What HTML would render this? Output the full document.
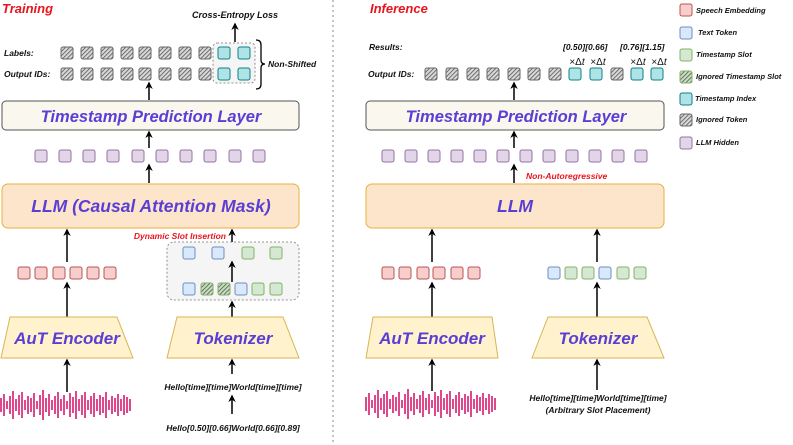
<!DOCTYPE html>
<html><head><meta charset="utf-8"><style>
html,body{margin:0;padding:0;background:#fff;}
svg{display:block;}
text{font-family:"Liberation Sans",sans-serif;font-style:italic;font-weight:bold;}
</style></head><body>
<svg width="793" height="445" viewBox="0 0 793 445" xmlns="http://www.w3.org/2000/svg">
<defs>
<pattern id="hg" width="3" height="3" patternUnits="userSpaceOnUse" patternTransform="rotate(45)">
<rect width="3" height="3" fill="#d8d8d8"/><line x1="0" y1="0" x2="0" y2="3" stroke="#555" stroke-width="1.6"/></pattern>
<pattern id="hgr" width="3" height="3" patternUnits="userSpaceOnUse" patternTransform="rotate(45)">
<rect width="3" height="3" fill="#c9dcc4"/><line x1="0" y1="0" x2="0" y2="3" stroke="#4a5a46" stroke-width="1.6"/></pattern>
<marker id="ar" viewBox="0 0 10 10" refX="8" refY="5" markerWidth="5" markerHeight="5" orient="auto"><path d="M0,0 L10,5 L0,10 L3,5 z" fill="#000"/></marker>
<g id="ig"><rect width="12" height="12" rx="2" fill="url(#hg)" stroke="#666" stroke-width="1"/></g>
<g id="igs"><rect width="12" height="12" rx="2" fill="url(#hgr)" stroke="#82b366" stroke-width="1"/></g>
<g id="te"><rect width="12" height="12" rx="2" fill="#b0e3e6" stroke="#0e8088" stroke-width="1"/></g>
<g id="hi"><rect width="12" height="12" rx="2" fill="#e1d5e7" stroke="#9673a6" stroke-width="1"/></g>
<g id="sp"><rect width="12" height="12" rx="2" fill="#f8cecc" stroke="#b85450" stroke-width="1"/></g>
<g id="tx"><rect width="12" height="12" rx="2" fill="#dae8fc" stroke="#6c8ebf" stroke-width="1"/></g>
<g id="gs"><rect width="12" height="12" rx="2" fill="#d5e8d4" stroke="#82b366" stroke-width="1"/></g>
<path id="wave" fill="none" stroke="#d81b72" stroke-width="1.6" d="M1 398V412 M4 394V416 M7 401V409 M10 396V414 M13 391V419 M16 399V411 M19 395V415 M22 392V418 M25 400V410 M28 396V414 M31 398V412 M34 393V417 M37 401V409 M40 395V415 M43 390V420 M46 398V412 M49 394V416 M52 400V410 M55 396V414 M58 392V418 M61 399V411 M64 395V415 M67 401V409 M70 393V417 M73 397V413 M76 391V419 M79 399V411 M82 395V415 M85 392V418 M88 400V410 M91 396V414 M94 393V417 M97 399V411 M100 395V415 M103 397V413 M106 392V418 M109 400V410 M112 396V414 M115 398V412 M118 394V416 M121 399V411 M124 395V415 M127 397V413 M130 399V411"/>
</defs>

<line x1="333" y1="0" x2="333" y2="445" stroke="#888" stroke-width="1" stroke-dasharray="2,3"/>

<text x="2" y="13" font-size="13" fill="#e8141e">Training</text>
<text x="235" y="18" font-size="9" fill="#111" text-anchor="middle">Cross-Entropy Loss</text>
<line x1="235" y1="42" x2="235" y2="24" stroke="#000" stroke-width="1.5" marker-end="url(#ar)"/>
<text x="4" y="56" font-size="8.5" fill="#111">Labels:</text>
<text x="4" y="77" font-size="8.5" fill="#111">Output IDs:</text>
<rect x="213" y="43" width="42" height="40" rx="4" fill="#f5f5f5" stroke="#777" stroke-width="0.8" stroke-dasharray="2,2"/>
<g>
<use href="#ig" x="61" y="47"/><use href="#ig" x="81" y="47"/><use href="#ig" x="101" y="47"/><use href="#ig" x="121" y="47"/><use href="#ig" x="139" y="47"/><use href="#ig" x="159" y="47"/><use href="#ig" x="179" y="47"/><use href="#ig" x="199" y="47"/><use href="#te" x="218" y="47"/><use href="#te" x="238" y="47"/>
<use href="#ig" x="61" y="68"/><use href="#ig" x="81" y="68"/><use href="#ig" x="101" y="68"/><use href="#ig" x="121" y="68"/><use href="#ig" x="139" y="68"/><use href="#ig" x="159" y="68"/><use href="#ig" x="179" y="68"/><use href="#ig" x="199" y="68"/><use href="#te" x="218" y="68"/><use href="#te" x="238" y="68"/>
</g>
<path d="M256 40 Q261 40 261 45 V60 Q261 64 265 64 Q261 64 261 68 V84 Q261 89 256 89" fill="none" stroke="#000" stroke-width="1.3"/>
<text x="268" y="67" font-size="8.5" fill="#111">Non-Shifted</text>
<line x1="149" y1="100" x2="149" y2="83" stroke="#000" stroke-width="1.5" marker-end="url(#ar)"/>
<rect x="2" y="101" width="297" height="29" rx="4" fill="#f9f7ee" stroke="#555" stroke-width="1"/>
<text x="151" y="122" font-size="16.5" fill="#5a3fd4" text-anchor="middle">Timestamp Prediction Layer</text>
<line x1="149" y1="148" x2="149" y2="132" stroke="#000" stroke-width="1.5" marker-end="url(#ar)"/>
<g>
<use href="#hi" x="35" y="150"/><use href="#hi" x="59" y="150"/><use href="#hi" x="83" y="150"/><use href="#hi" x="107" y="150"/><use href="#hi" x="132" y="150"/><use href="#hi" x="156" y="150"/><use href="#hi" x="180" y="150"/><use href="#hi" x="204" y="150"/><use href="#hi" x="229" y="150"/><use href="#hi" x="253" y="150"/>
</g>
<line x1="149" y1="183" x2="149" y2="165" stroke="#000" stroke-width="1.5" marker-end="url(#ar)"/>
<rect x="2" y="184" width="297" height="44" rx="6" fill="#fde5cc" stroke="#e6b13c" stroke-width="1"/>
<text x="151" y="212" font-size="17.5" fill="#5a3fd4" text-anchor="middle">LLM (Causal Attention Mask)</text>
<line x1="67" y1="262" x2="67" y2="230" stroke="#000" stroke-width="1.5" marker-end="url(#ar)"/>
<line x1="232" y1="242" x2="232" y2="230" stroke="#000" stroke-width="1.5" marker-end="url(#ar)"/>
<text x="226" y="239" font-size="8.5" fill="#e8141e" text-anchor="end">Dynamic Slot Insertion</text>
<g>
<use href="#sp" x="18" y="267"/><use href="#sp" x="35" y="267"/><use href="#sp" x="53" y="267"/><use href="#sp" x="70" y="267"/><use href="#sp" x="87" y="267"/><use href="#sp" x="104" y="267"/>
</g>
<line x1="67" y1="317" x2="67" y2="283" stroke="#000" stroke-width="1.5" marker-end="url(#ar)"/>
<polygon points="10,317 117,317 133,358 1,358" fill="#fff2cc" stroke="#d6b656" stroke-width="1"/>
<text x="67" y="344" font-size="17" fill="#5a3fd4" text-anchor="middle">AuT Encoder</text>
<line x1="67" y1="392" x2="67" y2="360" stroke="#000" stroke-width="1.5" marker-end="url(#ar)"/>
<use href="#wave" x="0" y="0"/>

<rect x="167" y="242" width="132" height="58" rx="7" fill="#f5f5f5" stroke="#777" stroke-width="0.8" stroke-dasharray="2,2"/>
<use href="#tx" x="183" y="247"/><use href="#tx" x="212" y="247"/><use href="#gs" x="242" y="247"/><use href="#gs" x="270" y="247"/>
<line x1="232" y1="282" x2="232" y2="262" stroke="#000" stroke-width="1.5" marker-end="url(#ar)"/>
<use href="#tx" x="183" y="283"/><use href="#igs" x="201" y="283"/><use href="#igs" x="218" y="283"/><use href="#tx" x="235" y="283"/><use href="#gs" x="252" y="283"/><use href="#gs" x="270" y="283"/>
<line x1="232" y1="317" x2="232" y2="302" stroke="#000" stroke-width="1.5" marker-end="url(#ar)"/>
<polygon points="177,317 283,317 299,358 167,358" fill="#fff2cc" stroke="#d6b656" stroke-width="1"/>
<text x="233" y="344" font-size="17" fill="#5a3fd4" text-anchor="middle">Tokenizer</text>
<line x1="232" y1="374" x2="232" y2="360" stroke="#000" stroke-width="1.5" marker-end="url(#ar)"/>
<text x="233" y="390" font-size="8.5" fill="#111" text-anchor="middle">Hello[time][time]World[time][time]</text>
<line x1="232" y1="414" x2="232" y2="396" stroke="#000" stroke-width="1.5" marker-end="url(#ar)"/>
<text x="233" y="431" font-size="8.5" fill="#111" text-anchor="middle">Hello[0.50][0.66]World[0.66][0.89]</text>

<text x="370" y="13" font-size="13" fill="#e8141e">Inference</text>
<text x="369" y="50" font-size="8.5" fill="#111">Results:</text>
<text x="563" y="50" font-size="8.5" fill="#111">[0.50][0.66]</text>
<text x="620" y="50" font-size="8.5" fill="#111">[0.76][1.15]</text>
<text x="577" y="65" font-size="10" fill="#111" text-anchor="middle" style="font-style:normal;font-weight:normal">×Δ<tspan font-style="italic">t</tspan></text>
<text x="598" y="65" font-size="10" fill="#111" text-anchor="middle" style="font-style:normal;font-weight:normal">×Δ<tspan font-style="italic">t</tspan></text>
<text x="638" y="65" font-size="10" fill="#111" text-anchor="middle" style="font-style:normal;font-weight:normal">×Δ<tspan font-style="italic">t</tspan></text>
<text x="659" y="65" font-size="10" fill="#111" text-anchor="middle" style="font-style:normal;font-weight:normal">×Δ<tspan font-style="italic">t</tspan></text>
<text x="368" y="77" font-size="8.5" fill="#111">Output IDs:</text>
<use href="#ig" x="425" y="68"/><use href="#ig" x="446" y="68"/><use href="#ig" x="467" y="68"/><use href="#ig" x="487" y="68"/><use href="#ig" x="508" y="68"/><use href="#ig" x="528" y="68"/><use href="#ig" x="549" y="68"/><use href="#te" x="569" y="68"/><use href="#te" x="590" y="68"/><use href="#ig" x="611" y="68"/><use href="#te" x="631" y="68"/><use href="#te" x="651" y="68"/>
<line x1="514" y1="100" x2="514" y2="83" stroke="#000" stroke-width="1.5" marker-end="url(#ar)"/>
<rect x="366" y="101" width="298" height="29" rx="4" fill="#f9f7ee" stroke="#555" stroke-width="1"/>
<text x="516" y="122" font-size="16.5" fill="#5a3fd4" text-anchor="middle">Timestamp Prediction Layer</text>
<line x1="514" y1="148" x2="514" y2="132" stroke="#000" stroke-width="1.5" marker-end="url(#ar)"/>
<use href="#hi" x="382" y="150"/><use href="#hi" x="405" y="150"/><use href="#hi" x="428" y="150"/><use href="#hi" x="451" y="150"/><use href="#hi" x="474" y="150"/><use href="#hi" x="497" y="150"/><use href="#hi" x="520" y="150"/><use href="#hi" x="543" y="150"/><use href="#hi" x="566" y="150"/><use href="#hi" x="589" y="150"/><use href="#hi" x="612" y="150"/><use href="#hi" x="635" y="150"/>
<line x1="514" y1="183" x2="514" y2="165" stroke="#000" stroke-width="1.5" marker-end="url(#ar)"/>
<text x="526" y="179" font-size="8.5" fill="#e8141e">Non-Autoregressive</text>
<rect x="366" y="184" width="298" height="44" rx="6" fill="#fde5cc" stroke="#e6b13c" stroke-width="1"/>
<text x="515" y="212" font-size="17.5" fill="#5a3fd4" text-anchor="middle">LLM</text>
<line x1="432" y1="262" x2="432" y2="230" stroke="#000" stroke-width="1.5" marker-end="url(#ar)"/>
<line x1="597" y1="262" x2="597" y2="230" stroke="#000" stroke-width="1.5" marker-end="url(#ar)"/>
<use href="#sp" x="382" y="267"/><use href="#sp" x="399" y="267"/><use href="#sp" x="417" y="267"/><use href="#sp" x="433" y="267"/><use href="#sp" x="451" y="267"/><use href="#sp" x="468" y="267"/>
<use href="#tx" x="548" y="267"/><use href="#gs" x="565" y="267"/><use href="#gs" x="582" y="267"/><use href="#tx" x="599" y="267"/><use href="#gs" x="617" y="267"/><use href="#gs" x="634" y="267"/>
<line x1="432" y1="317" x2="432" y2="283" stroke="#000" stroke-width="1.5" marker-end="url(#ar)"/>
<line x1="597" y1="317" x2="597" y2="283" stroke="#000" stroke-width="1.5" marker-end="url(#ar)"/>
<polygon points="373,317 492,317 498,358 366,358" fill="#fff2cc" stroke="#d6b656" stroke-width="1"/>
<text x="432" y="344" font-size="17" fill="#5a3fd4" text-anchor="middle">AuT Encoder</text>
<polygon points="548,317 647,317 664,358 532,358" fill="#fff2cc" stroke="#d6b656" stroke-width="1"/>
<text x="598" y="344" font-size="17" fill="#5a3fd4" text-anchor="middle">Tokenizer</text>
<line x1="432" y1="391" x2="432" y2="360" stroke="#000" stroke-width="1.5" marker-end="url(#ar)"/>
<use href="#wave" x="365" y="-1"/>
<line x1="597" y1="390" x2="597" y2="360" stroke="#000" stroke-width="1.5" marker-end="url(#ar)"/>
<text x="598" y="401" font-size="8.5" fill="#111" text-anchor="middle">Hello[time][time]World[time][time]</text>
<text x="598" y="413" font-size="8.5" fill="#111" text-anchor="middle">(Arbitrary Slot Placement)</text>

<use href="#sp" x="680" y="4"/><text x="696" y="13" font-size="7.5" fill="#111">Speech Embedding</text>
<use href="#tx" x="680" y="27"/><text x="698" y="35" font-size="7.5" fill="#111">Text Token</text>
<use href="#gs" x="680" y="49"/><text x="696" y="57" font-size="7.5" fill="#111">Timestamp Slot</text>
<use href="#igs" x="680" y="71"/><text x="696" y="79" font-size="7.5" fill="#111">Ignored Timestamp Slot</text>
<use href="#te" x="680" y="93"/><text x="695" y="101" font-size="7.5" fill="#111">Timestamp Index</text>
<use href="#ig" x="680" y="114"/><text x="696" y="122" font-size="7.5" fill="#111">Ignored Token</text>
<use href="#hi" x="680" y="137"/><text x="696" y="145" font-size="7.5" fill="#111">LLM Hidden</text>
</svg>
</body></html>
